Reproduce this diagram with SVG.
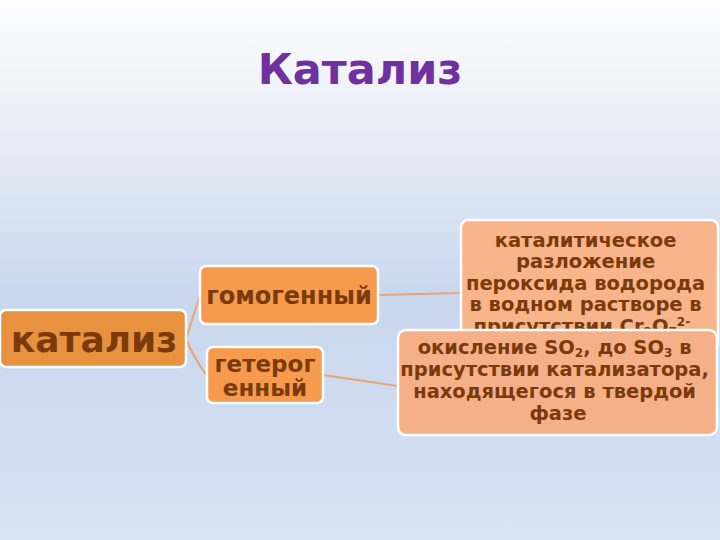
<svg xmlns="http://www.w3.org/2000/svg" width="720" height="540" viewBox="0 0 720 540">
  <defs>
    <linearGradient id="bg" x1="0" y1="0" x2="0" y2="1">
      <stop offset="0" stop-color="#fdfdfe"/>
      <stop offset="0.15" stop-color="#f1f3f9"/>
      <stop offset="0.55" stop-color="#c8d7ee"/>
      <stop offset="1" stop-color="#d8e2f2"/>
    </linearGradient>
    <clipPath id="clip1">
      <rect x="455" y="215" width="270" height="116"/>
    </clipPath>
    <style>
      .t { font-family: "DejaVu Sans", Verdana, sans-serif; font-weight: bold; fill: #7a3a0a; text-anchor: middle; }
      .box { stroke: #ffffff; stroke-width: 2.5; }
      .c { fill: none; stroke: #e8a574; stroke-width: 2; }
    </style>
  </defs>
  <rect x="0" y="0" width="720" height="540" fill="url(#bg)"/>
  <text x="360" y="84" font-family="DejaVu Sans, Verdana, sans-serif" font-weight="bold" font-size="43" fill="#7030a0" text-anchor="middle">Катализ</text>

  <g id="connectors">
    <path class="c" d="M186,339 Q192,320 200,295"/>
    <path class="c" d="M186,339 Q195,360 207,376"/>
    <path class="c" d="M378,295 L461,293"/>
    <path class="c" d="M323,375 L398,386"/>
  </g>

  <g id="kataliz">
    <rect class="box" x="0" y="310" width="186" height="57" rx="6" fill="#e8913f"/>
    <text class="t" x="94" y="352" font-size="36">катализ</text>
  </g>

  <g id="homogeneous">
    <rect class="box" x="200" y="266" width="178" height="58" rx="6" fill="#f69a4e"/>
    <text class="t" x="289" y="304" font-size="24">гомогенный</text>
  </g>

  <g id="heterogeneous">
    <rect class="box" x="207" y="347" width="116" height="56" rx="6" fill="#f69a4e"/>
    <text class="t" x="265" y="372" font-size="23">гетерог</text>
    <text class="t" x="265" y="396" font-size="23">енный</text>
  </g>

  <g id="homo-example">
    <rect class="box" x="461" y="220" width="257" height="130" rx="7" fill="#f8b48b"/>
    <text class="t" font-size="19.5" clip-path="url(#clip1)">
      <tspan x="589" y="247">каталитическое</tspan>
      <tspan x="589" y="268">разложение</tspan>
      <tspan x="589" y="290">пероксида водорода</tspan>
      <tspan x="589" y="311">в водном растворе в</tspan>
      <tspan x="589" y="333">присутствии Cr<tspan font-size="12" dy="3">2</tspan><tspan dy="-3">O</tspan><tspan font-size="12" dy="3">7</tspan><tspan font-size="12" dy="-10">2-</tspan><tspan dy="7"> .</tspan></tspan>
    </text>
  </g>

  <g id="hetero-example">
    <rect class="box" x="398" y="330" width="319" height="105" rx="8" fill="#f6b089"/>
    <text class="t" font-size="19.5">
      <tspan x="558" y="354">окисление SO<tspan font-size="12" dy="3">2</tspan><tspan dy="-3">, до SO</tspan><tspan font-size="12" dy="3">3</tspan><tspan dy="-3"> в</tspan></tspan>
      <tspan x="558" y="376">присутствии катализатора,</tspan>
      <tspan x="558" y="398">находящегося в твердой</tspan>
      <tspan x="558" y="420">фазе</tspan>
    </text>
  </g>
</svg>
